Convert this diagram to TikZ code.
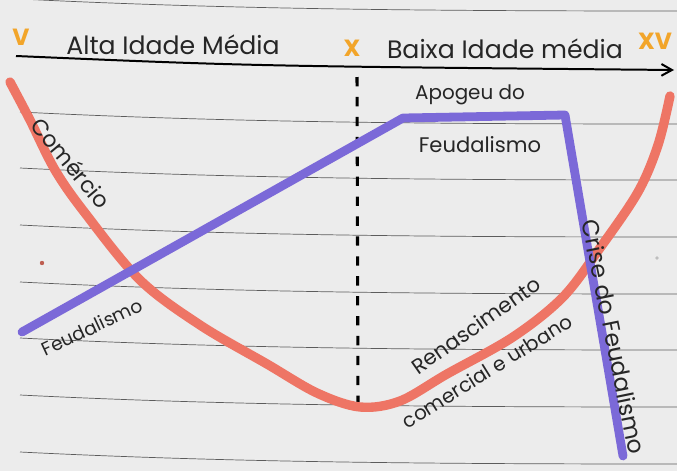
\documentclass[tikz,border=0pt]{standalone}
\usepackage{fontspec}
\setmainfont{Poppins}
\usetikzlibrary{arrows.meta}
\definecolor{papel}{HTML}{ECECEC}
\definecolor{pauta}{HTML}{5C5C5C}
\definecolor{salmao}{HTML}{EE7565}
\definecolor{roxo}{HTML}{7B69D8}
\definecolor{ouro}{HTML}{F2A52A}
\definecolor{tinta}{HTML}{262626}

\begin{document}
\begin{tikzpicture}[x=0.03cm,y=-0.03cm,
    every node/.style={text=tinta,inner sep=1pt},
    era/.style={font=\fontsize{21.5}{24}\selectfont},
    seculo/.style={text=ouro,font=\fontsize{20}{22}\selectfont\bfseries},
    rotulo/.style={font=\fontsize{18}{20}\selectfont},
    linha/.style={pauta,line width=0.6pt},
    traco/.style={line width=7.5pt,line cap=round,line join=round}]
  \useasboundingbox[fill=papel] (0,0) rectangle (677,471);
  % pautas do caderno
  \foreach \y in {-1,112,168,225,282,338,395,452}
    \draw[linha] (20,\y) .. controls (220,\y+10) and (420,\y+12) .. (677,\y+12);
  % linha do tempo
  \coordinate (ini) at (16,56);
  \coordinate (fim) at (674,70);
  \draw[line width=1.7pt,-{Straight Barb[length=9pt,width=10pt]}] (ini) .. controls (250,66) .. (fim);
  \node[seculo] (v) at (21,37) {V};
  \node[era] (alta) at (173,45) {Alta Idade Média};
  \node[seculo] (x) at (352,48) {X};
  \node[era] (baixa) at (505,49) {Baixa Idade média};
  \node[seculo] (xv) at (655,41) {XV};
  % divisao
  \coordinate (d1) at (357,77);
  \coordinate (d2) at (358,402);
  \draw[line width=2.6pt,dash pattern=on 8pt off 9pt] (d1) -- (d2);
  % comercio
  \draw[traco,salmao,line width=8pt] plot[smooth,tension=0.55] coordinates {
    (10,82) (30,120) (55,170) (85,213) (140,280) (200,325) (267,364) (317,393)
    (360,407) (400,401) (447,374) (513,337) (563,297) (600,248) (638,192) (658,145) (670,96)};
  % feudalismo
  \coordinate (f1) at (22,332);
  \coordinate (f2) at (403,118);
  \coordinate (f3) at (565,115);
  \coordinate (f4) at (623,456);
  \draw[traco,roxo] (f1) -- (f2) -- (f3) -- (f4);
  \fill[salmao!80!black] (42,263) circle (2.2);
  \fill[pauta!40] (657,258) circle (1.8);
  % rotulos
  \node[rotulo,rotate=-50,font=\fontsize{19}{20}\selectfont] (com) at (71,163) {Comércio};
  \node[rotulo,rotate=25,font=\fontsize{16}{18}\selectfont] (feu) at (92,327) {Feudalismo};
  \node[rotulo,font=\fontsize{17}{20}\selectfont] (apo) at (470,95) {Apogeu do};
  \node[rotulo] (feu2) at (480,145) {Feudalismo};
  \node[rotulo,rotate=35] (ren) at (476,325) {Renascimento};
  \node[rotulo,rotate=32,font=\fontsize{17}{18}\selectfont] (cu) at (487,371) {comercial e urbano};
  \node[rotulo,rotate=-78.5,font=\fontsize{20}{22}\selectfont] (cri) at (614,337) {Crise do Feudalismo};
\end{tikzpicture}
\end{document}
